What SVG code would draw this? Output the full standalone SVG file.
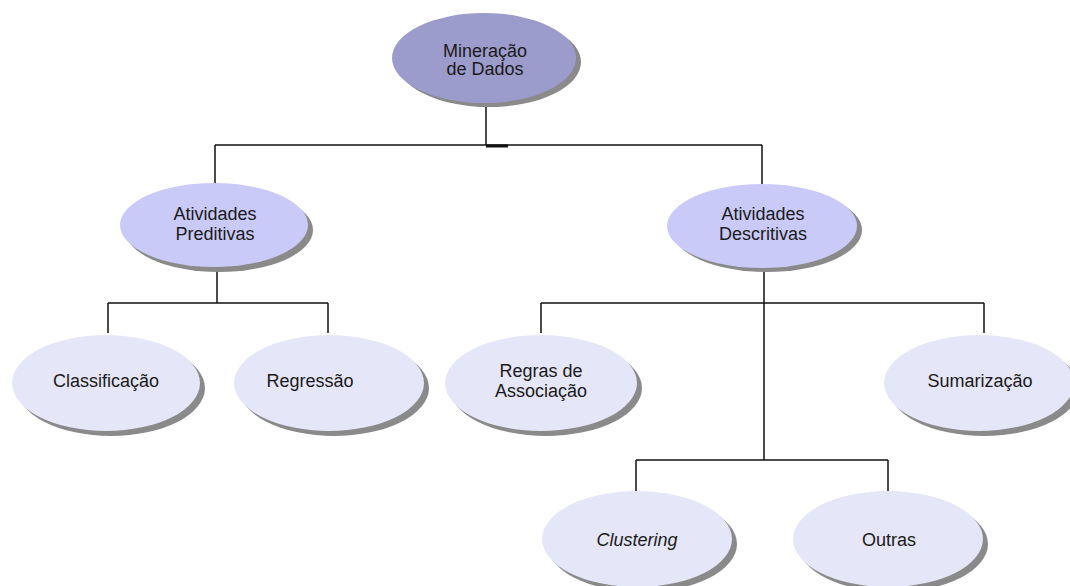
<svg xmlns="http://www.w3.org/2000/svg" width="1070" height="586" viewBox="0 0 1070 586">
<style>
.sh{fill:#8a8a8a}
.l1{fill:#9c9ccc}
.l2{fill:#cacaf8}
.l3{fill:#e6e6f9}
text{font-family:"Liberation Sans",Arial,sans-serif;font-size:18px;fill:#1a1a1a;text-anchor:middle}
.it{font-style:italic}
.c{stroke:#111;stroke-width:1.5;fill:none}
</style>
<rect width="1070" height="586" fill="#ffffff"/>
<g id="connectors">
<path class="c" d="M486 103V145M215 145H762M215 145V183M762 145V185"/>
<path d="M486 146H508" stroke="#111" stroke-width="3"/>
<path class="c" d="M217 265V303M108 303H328M108 303V333M328 303V333"/>
<path class="c" d="M764 267V460M541 303H984M541 303V333M984 303V333"/>
<path class="c" d="M636 460H888M636 460V492M888 460V492"/>
</g>
<g id="mineracao">
<ellipse class="sh" cx="489" cy="62" rx="92" ry="45"/>
<ellipse class="l1" cx="484" cy="58" rx="92" ry="45"/>
<text x="485" y="57">Mineração</text>
<text x="485" y="75">de Dados</text>
</g>
<g id="preditivas">
<ellipse class="sh" cx="219" cy="230" rx="94" ry="42"/>
<ellipse class="l2" cx="214" cy="225" rx="94" ry="42"/>
<text x="215" y="220">Atividades</text>
<text x="215" y="240">Preditivas</text>
</g>
<g id="descritivas">
<ellipse class="sh" cx="767" cy="230" rx="95" ry="42"/>
<ellipse class="l2" cx="762" cy="226" rx="95" ry="42"/>
<text x="763" y="220">Atividades</text>
<text x="763" y="240">Descritivas</text>
</g>
<g id="classificacao">
<ellipse class="sh" cx="111" cy="388" rx="94" ry="48"/>
<ellipse class="l3" cx="106" cy="383" rx="94" ry="48"/>
<text x="106" y="387">Classificação</text>
</g>
<g id="regressao">
<ellipse class="sh" cx="334" cy="388" rx="95" ry="48"/>
<ellipse class="l3" cx="329" cy="383" rx="95" ry="48"/>
<text x="310" y="387">Regressão</text>
</g>
<g id="regras">
<ellipse class="sh" cx="546" cy="388" rx="96" ry="48"/>
<ellipse class="l3" cx="541" cy="383" rx="96" ry="48"/>
<text x="541" y="377">Regras de</text>
<text x="541" y="397">Associação</text>
</g>
<g id="sumarizacao">
<ellipse class="sh" cx="984" cy="388" rx="95" ry="48"/>
<ellipse class="l3" cx="979" cy="383" rx="95" ry="48"/>
<text x="980" y="387">Sumarização</text>
</g>
<g id="clustering">
<ellipse class="sh" cx="642" cy="544" rx="95" ry="48"/>
<ellipse class="l3" cx="637" cy="539" rx="95" ry="48"/>
<text class="it" x="637" y="546">Clustering</text>
</g>
<g id="outras">
<ellipse class="sh" cx="893" cy="544" rx="95" ry="48"/>
<ellipse class="l3" cx="888" cy="539" rx="95" ry="48"/>
<text x="889" y="546">Outras</text>
</g>
</svg>
